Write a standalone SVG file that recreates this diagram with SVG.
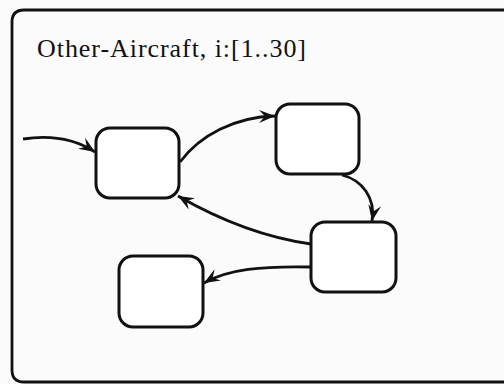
<svg xmlns="http://www.w3.org/2000/svg" width="504" height="384" viewBox="0 0 504 384">
<defs>
<style>
.frame{fill:none;stroke:#111;stroke-width:2.8}
.state{fill:#fff;stroke:#111;stroke-width:3}
.edge{fill:none;stroke:#111;stroke-width:2.8;marker-end:url(#arr)}
.title{font-family:"Liberation Serif","Times New Roman",serif;font-size:26px;fill:#111}
</style>
<marker id="arr" markerUnits="userSpaceOnUse" markerWidth="18" markerHeight="14" refX="16" refY="7" orient="auto" viewBox="0 0 18 14">
<path d="M0,0.5 L16,7 L0,13.5 L6,7 Z" fill="#111"/>
</marker>
</defs>
<rect width="504" height="384" fill="#fbfbfb"/>
<g id="container">
<path class="frame" d="M520,10 L24,10 Q12,10 12,22 L12,370 Q12,382 24,382 L520,382"/>
<text class="title" x="37" y="57" textLength="269" lengthAdjust="spacing">Other-Aircraft, i:[1..30]</text>
</g>
<g id="connectors">
<path class="edge" d="M23,139 C50,135 75,139 95,152"/>
<path class="edge" d="M180,162 C200,135 235,117 275,116"/>
<path class="edge" d="M342,175 C362,180 376,198 372,221"/>
<path class="edge" d="M311,244 C268,238 225,223 178,196"/>
<path class="edge" d="M311,267 C262,266 228,269 204,283"/>
</g>
<g id="s1"><rect class="state" x="96" y="128" width="83" height="70" rx="14"/></g>
<g id="s2"><rect class="state" x="276" y="104" width="83" height="70" rx="14"/></g>
<g id="s3"><rect class="state" x="311" y="222" width="85" height="70" rx="14"/></g>
<g id="s4"><rect class="state" x="119" y="256" width="84" height="71" rx="14"/></g>
</svg>
